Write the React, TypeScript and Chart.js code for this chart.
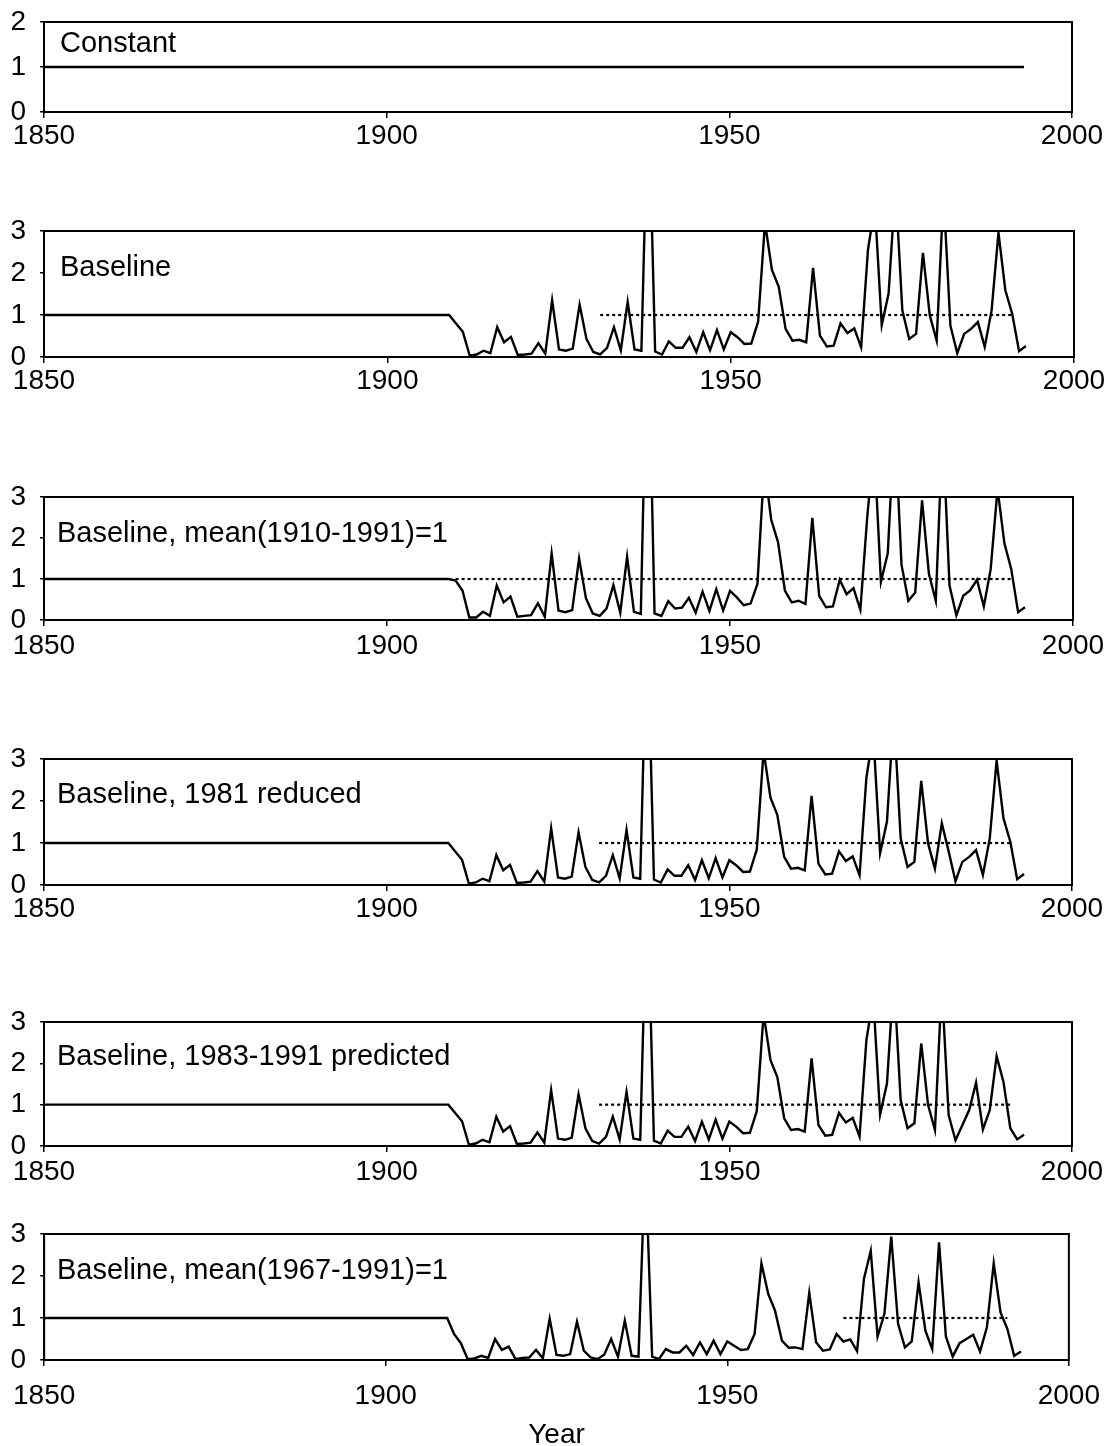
import React, { useEffect, useRef } from "react";
import { Chart, registerables } from "chart.js";

Chart.register(...registerables);

// ---------------- DATA ----------------
const X_TICKS = [1850, 1900, 1950, 2000];
const FLAT_START_YEAR = 1850;
const FLAT_VALUE = 1;
const MEAN_LEVEL = 1;

const CONSTANT_YEARS = [1850, 1993];
const CONSTANT_VALUES = [1, 1];

const YEARS = [
  1909, 1910, 1911, 1912, 1913, 1914, 1915, 1916, 1917, 1918,
  1919, 1920, 1921, 1922, 1923, 1924, 1925, 1926, 1927, 1928,
  1929, 1930, 1931, 1932, 1933, 1934, 1935, 1936, 1937, 1938,
  1939, 1940, 1941, 1942, 1943, 1944, 1945, 1946, 1947, 1948,
  1949, 1950, 1951, 1952, 1953, 1954, 1955, 1956, 1957, 1958,
  1959, 1960, 1961, 1962, 1963, 1964, 1965, 1966, 1967, 1968,
  1969, 1970, 1971, 1972, 1973, 1974, 1975, 1976, 1977, 1978,
  1979, 1980, 1981, 1982, 1983, 1984, 1985, 1986, 1987, 1988,
  1989, 1990, 1991, 1992, 1993,
];

const BASELINE = [
  1.0, 0.8, 0.6, 0.03, 0.06, 0.15, 0.09, 0.71, 0.35, 0.48,
  0.05, 0.06, 0.08, 0.33, 0.08, 1.35, 0.18, 0.15, 0.2, 1.25,
  0.43, 0.12, 0.06, 0.22, 0.71, 0.16, 1.31, 0.18, 0.15, 6.5,
  0.13, 0.06, 0.37, 0.22, 0.22, 0.47, 0.12, 0.59, 0.16, 0.64,
  0.18, 0.59, 0.47, 0.31, 0.32, 0.84, 3.2, 2.08, 1.67, 0.67,
  0.39, 0.41, 0.35, 2.12, 0.51, 0.25, 0.27, 0.8, 0.57, 0.68,
  0.23, 2.56, 3.6, 0.76, 1.51, 4.1, 1.11, 0.43, 0.55, 2.48,
  0.99, 0.39, 3.9, 0.75, 0.09, 0.55, 0.67, 0.83, 0.24, 1.11,
  2.96, 1.59, 1.03, 0.14, 0.26,
];

const BASELINE_MEAN_1910_1991 = [
  1.0, 0.96, 0.72, 0.06, 0.06, 0.2, 0.1, 0.84, 0.43, 0.57,
  0.08, 0.1, 0.12, 0.41, 0.08, 1.62, 0.23, 0.19, 0.24, 1.5,
  0.53, 0.16, 0.1, 0.28, 0.85, 0.18, 1.54, 0.2, 0.15, 7.8,
  0.16, 0.1, 0.46, 0.28, 0.3, 0.54, 0.18, 0.69, 0.22, 0.75,
  0.23, 0.71, 0.55, 0.36, 0.4, 0.88, 3.8, 2.45, 1.9, 0.72,
  0.43, 0.47, 0.39, 2.49, 0.59, 0.31, 0.33, 0.98, 0.63, 0.78,
  0.25, 2.5, 4.3, 0.93, 1.63, 4.9, 1.35, 0.47, 0.67, 2.92,
  1.12, 0.47, 4.7, 0.84, 0.11, 0.59, 0.72, 0.98, 0.33, 1.24,
  3.2, 1.87, 1.24, 0.19, 0.31,
];

const BASELINE_1981_REDUCED = [
  1.0, 0.8, 0.6, 0.03, 0.06, 0.15, 0.09, 0.71, 0.35, 0.48,
  0.05, 0.06, 0.08, 0.33, 0.08, 1.35, 0.18, 0.15, 0.2, 1.25,
  0.43, 0.12, 0.06, 0.22, 0.71, 0.16, 1.31, 0.18, 0.15, 6.5,
  0.13, 0.06, 0.37, 0.22, 0.22, 0.47, 0.12, 0.59, 0.16, 0.64,
  0.18, 0.59, 0.47, 0.31, 0.32, 0.84, 3.2, 2.08, 1.67, 0.67,
  0.39, 0.41, 0.35, 2.12, 0.51, 0.25, 0.27, 0.8, 0.57, 0.68,
  0.23, 2.56, 3.6, 0.76, 1.51, 4.1, 1.11, 0.43, 0.55, 2.48,
  0.99, 0.39, 1.47, 0.8, 0.09, 0.55, 0.67, 0.83, 0.24, 1.11,
  2.96, 1.59, 1.03, 0.14, 0.26,
];

const BASELINE_1983_1991_PREDICTED = [
  1.0, 0.8, 0.6, 0.03, 0.06, 0.15, 0.09, 0.71, 0.35, 0.48,
  0.05, 0.06, 0.08, 0.33, 0.08, 1.35, 0.18, 0.15, 0.2, 1.25,
  0.43, 0.12, 0.06, 0.22, 0.71, 0.16, 1.31, 0.18, 0.15, 6.5,
  0.13, 0.06, 0.37, 0.22, 0.22, 0.47, 0.12, 0.59, 0.16, 0.64,
  0.18, 0.59, 0.47, 0.31, 0.32, 0.84, 3.2, 2.08, 1.67, 0.67,
  0.39, 0.41, 0.35, 2.12, 0.51, 0.25, 0.27, 0.8, 0.57, 0.68,
  0.23, 2.56, 3.6, 0.76, 1.51, 4.1, 1.11, 0.43, 0.55, 2.48,
  0.99, 0.39, 3.9, 0.75, 0.14, 0.5, 0.87, 1.53, 0.4, 0.87,
  2.17, 1.55, 0.43, 0.16, 0.27,
];

const BASELINE_MEAN_1967_1991 = [
  1.0, 0.62, 0.4, 0.02, 0.04, 0.1, 0.05, 0.5, 0.24, 0.32,
  0.02, 0.05, 0.06, 0.24, 0.04, 0.98, 0.12, 0.1, 0.14, 0.91,
  0.22, 0.06, 0.02, 0.13, 0.5, 0.08, 0.94, 0.1, 0.08, 4.8,
  0.08, 0.02, 0.26, 0.18, 0.18, 0.34, 0.12, 0.42, 0.14, 0.46,
  0.14, 0.44, 0.34, 0.24, 0.26, 0.62, 2.3, 1.57, 1.17, 0.46,
  0.29, 0.3, 0.26, 1.6, 0.42, 0.22, 0.25, 0.62, 0.44, 0.49,
  0.21, 1.93, 2.6, 0.56, 1.1, 2.94, 0.86, 0.3, 0.44, 1.85,
  0.7, 0.26, 2.8, 0.56, 0.08, 0.4, 0.5, 0.6, 0.2, 0.78,
  2.3, 1.13, 0.74, 0.1, 0.2,
];

const PANEL_TITLES = [
  "Constant",
  "Baseline",
  "Baseline, mean(1910-1991)=1",
  "Baseline, 1981 reduced",
  "Baseline, 1983-1991 predicted",
  "Baseline, mean(1967-1991)=1",
];
const PANEL_Y_MAX = [2, 3, 3, 3, 3, 3];
const MEAN_SPANS: (number[] | null)[] = [
  null,
  [1931, 1991],
  [1910, 1991],
  [1931, 1991],
  [1931, 1991],
  [1967, 1991],
];
const SERIES_VALUES: (number[] | null)[] = [
  null,
  BASELINE,
  BASELINE_MEAN_1910_1991,
  BASELINE_1981_REDUCED,
  BASELINE_1983_1991_PREDICTED,
  BASELINE_MEAN_1967_1991,
];
const X_TITLE = "Year";

// ---------------- LAYOUT ----------------
const PAGE_W = 1113;
const PAD_TOP = 34;
const FONT_FAMILY = "'Liberation Sans', Arial, Helvetica, sans-serif";
const TICK_FONT_SIZE = 28;
const TITLE_FONT_SIZE = 29;

const LAYOUT = [
  { top: 22, bottom: 112, left: 44, right: 1072, xAxisH: 50, xPad: 1, titleDy: 22, titleX: 60 },
  { top: 231, bottom: 357, left: 44, right: 1074, xAxisH: 50, xPad: 1, titleDy: 37, titleX: 60 },
  { top: 497, bottom: 620, left: 44, right: 1073, xAxisH: 50, xPad: 3, titleDy: 37, titleX: 57 },
  { top: 759, bottom: 885, left: 44, right: 1072, xAxisH: 50, xPad: 1, titleDy: 36, titleX: 57 },
  { top: 1022, bottom: 1146, left: 44, right: 1072, xAxisH: 50, xPad: 3, titleDy: 35, titleX: 57 },
  { top: 1234, bottom: 1360, left: 44, right: 1071, xAxisH: 86, xPad: 13, titleDy: 37, titleX: 57 },
];

const framePlugin = {
  id: "frame",
  beforeDatasetsDraw(chart: any, _args: any, opts: any) {
    const { ctx, chartArea } = chart;
    ctx.save();
    ctx.font = `${TITLE_FONT_SIZE}px ${FONT_FAMILY}`;
    ctx.fillStyle = "#000";
    ctx.textAlign = "left";
    ctx.textBaseline = "middle";
    ctx.fillText(opts.text, opts.x, chartArea.top + opts.dy);
    ctx.restore();
  },
  afterDatasetsDraw(chart: any) {
    const { ctx, chartArea } = chart;
    ctx.save();
    ctx.strokeStyle = "#000";
    ctx.lineWidth = 2;
    ctx.strokeRect(chartArea.left, chartArea.top, chartArea.right - chartArea.left, chartArea.bottom - chartArea.top);
    ctx.restore();
  },
};

function Panel({ index }: { index: number }) {
  const ref = useRef<HTMLCanvasElement>(null);
  const L = LAYOUT[index];
  const canvasTop = L.top - PAD_TOP;
  const canvasH = L.bottom + L.xAxisH - canvasTop;

  useEffect(() => {
    const values = SERIES_VALUES[index];
    const xs = values ? [FLAT_START_YEAR, ...YEARS] : CONSTANT_YEARS;
    const ys = values ? [FLAT_VALUE, ...values] : CONSTANT_VALUES;
    const datasets: any[] = [
      {
        data: xs.map((x, i) => ({ x, y: ys[i] })),
        borderColor: "#000",
        borderWidth: 2.4,
        pointRadius: 0,
        tension: 0,
        fill: false,
      },
    ];
    const span = MEAN_SPANS[index];
    if (span) {
      datasets.push({
        data: span.map((x) => ({ x, y: MEAN_LEVEL })),
        borderColor: "#000",
        borderWidth: 2.2,
        borderDash: [3, 3],
        pointRadius: 0,
        tension: 0,
        fill: false,
      });
    }
    const tickFont = { family: FONT_FAMILY, size: TICK_FONT_SIZE, lineHeight: 1.2 };
    const isLast = index === LAYOUT.length - 1;
    const chart = new Chart(ref.current as HTMLCanvasElement, {
      type: "line",
      data: { datasets },
      options: {
        responsive: false,
        animation: false,
        devicePixelRatio: 1,
        layout: { padding: { top: PAD_TOP, right: PAGE_W - L.right, left: 0, bottom: 0 } },
        plugins: {
          legend: { display: false },
          tooltip: { enabled: false },
          frame: { text: PANEL_TITLES[index], x: L.titleX, dy: L.titleDy },
        } as any,
        scales: {
          x: {
            type: "linear",
            min: 1850,
            max: 2000,
            afterBuildTicks: (s: any) => {
              s.ticks = X_TICKS.map((v) => ({ value: v }));
            },
            afterFit: (s: any) => {
              s.height = L.xAxisH;
            },
            ticks: {
              font: tickFont,
              color: "#000",
              padding: L.xPad,
              maxRotation: 0,
              autoSkip: false,
              callback: (v: any) => String(v),
            },
            grid: { display: true, drawOnChartArea: false, drawTicks: true, tickLength: 6, color: "#000", lineWidth: 1.5 },
            border: { display: true, color: "#000", width: 2 },
            title: {
              display: isLast,
              text: X_TITLE,
              color: "#000",
              font: { family: FONT_FAMILY, size: TICK_FONT_SIZE, lineHeight: 1.2 },
              padding: { top: 0, bottom: -6 },
            },
          },
          y: {
            type: "linear",
            min: 0,
            max: PANEL_Y_MAX[index],
            afterFit: (s: any) => {
              s.width = L.left;
            },
            ticks: {
              stepSize: 1,
              font: tickFont,
              color: "#000",
              padding: 14,
              callback: (v: any) => String(v),
            },
            grid: { display: true, drawOnChartArea: false, drawTicks: true, tickLength: 4, color: "#000", lineWidth: 1.5 },
            border: { display: true, color: "#000", width: 2 },
          },
        },
      } as any,
      plugins: [framePlugin as any],
    });
    return () => chart.destroy();
  }, [index]);

  return (
    <canvas
      ref={ref}
      width={PAGE_W}
      height={canvasH}
      style={{ position: "absolute", left: 0, top: canvasTop, width: PAGE_W, height: canvasH, display: "block" }}
    />
  );
}

export default function App() {
  return (
    <div style={{ position: "absolute", left: 0, top: 0, width: PAGE_W, height: 1446, background: "#fff", overflow: "hidden" }}>
      {LAYOUT.map((_, i) => (
        <Panel key={i} index={i} />
      ))}
    </div>
  );
}
